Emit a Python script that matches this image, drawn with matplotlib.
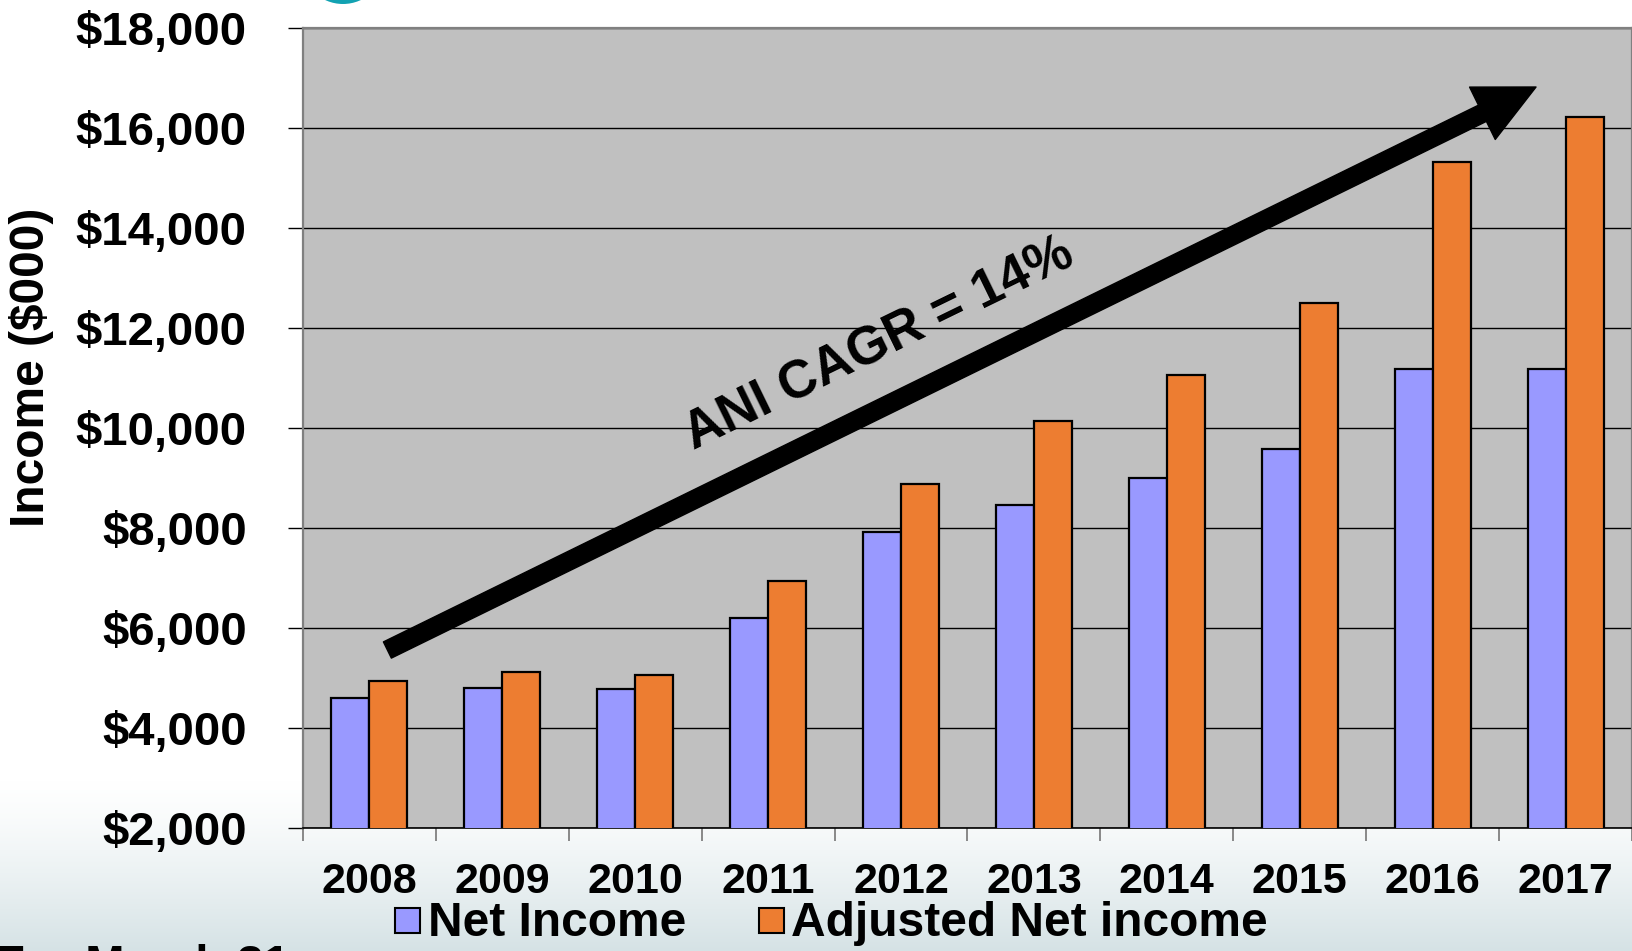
import numpy as np
import matplotlib
matplotlib.use("Agg")
import matplotlib.pyplot as plt
from matplotlib.patches import FancyArrowPatch, Circle
from matplotlib.lines import Line2D

# ---- data ----
years = ["2008", "2009", "2010", "2011", "2012", "2013", "2014", "2015", "2016", "2017"]
net_income = [4600, 4790, 4770, 6200, 7920, 8450, 9000, 9580, 11170, 11180]
adjusted_net_income = [4940, 5110, 5050, 6930, 8880, 10140, 11050, 12500, 15320, 16220]
ytick_values = [2000, 4000, 6000, 8000, 10000, 12000, 14000, 16000, 18000]
ytick_labels = ["$2,000", "$4,000", "$6,000", "$8,000", "$10,000", "$12,000",
                "$14,000", "$16,000", "$18,000"]
series_names = ["Net Income", "Adjusted Net income"]

plt.rcParams['font.family'] = ['Liberation Sans', 'DejaVu Sans']
plt.rcParams['font.weight'] = 'bold'

W, H = 1633, 951
fig = plt.figure(figsize=(W / 100, H / 100), dpi=100)
fig.patch.set_facecolor('white')

# background gradient at bottom of slide
bg = fig.add_axes([0, 0, 1, 1], zorder=-10)
bg.set_axis_off()
rows = np.arange(H)
t = np.clip((rows - 780) / (H - 780), 0, 1) ** 1.3
top_c = np.array([1.0, 1.0, 1.0])
bot_c = np.array([0.835, 0.886, 0.898])
grad = top_c[None, :] * (1 - t[:, None]) + bot_c[None, :] * t[:, None]
img = np.repeat(grad[:, None, :], 4, axis=1)
bg.imshow(img, aspect='auto', extent=[0, 1, 0, 1], origin='upper')
bg.set_xlim(0, 1)
bg.set_ylim(0, 1)

# teal decorative shape at top
fig.patches.append(Circle((343, H + 38), 42, transform=None,
                          facecolor='#12a2b2', edgecolor='none', zorder=-5))

# main axes
left, right, top, bottom = 303, 1632, 27.5, 827.5
ax = fig.add_axes([left / W, (H - bottom) / H, (right - left) / W, (bottom - top) / H])
ax.set_facecolor('#c0c0c0')

x = np.arange(len(years))
bw = 0.286
ax.bar(x - bw / 2, net_income, width=bw, color='#9999ff', edgecolor='black',
       linewidth=1.6, zorder=3, label=series_names[0])
ax.bar(x + bw / 2, adjusted_net_income, width=bw, color='#ed7d31', edgecolor='black',
       linewidth=1.6, zorder=3, label=series_names[1])

ax.set_xlim(-0.5, len(years) - 0.5)
ax.set_ylim(ytick_values[0], ytick_values[-1])
ax.set_yticks(ytick_values)
ax.set_yticklabels(ytick_labels, fontsize=34, fontweight='bold')
ax.yaxis.grid(True, color='black', linewidth=1.0, zorder=1)
ax.set_axisbelow(True)
ax.tick_params(axis='y', length=11, width=1.0, color='black', pad=29.5)

ax.set_xticks(x)
ax.set_xticklabels(years, fontsize=31, fontweight='bold')
ax.set_xticks(np.arange(len(years) + 1) - 0.5, minor=True)
ax.tick_params(axis='x', which='major', length=0, pad=24.5)
ax.tick_params(axis='x', which='minor', length=9, width=1.3, color='#808080')

for s in ['left', 'top', 'right']:
    ax.spines[s].set_color('#808080')
    ax.spines[s].set_linewidth(1.6)
ax.spines['bottom'].set_color('black')
ax.spines['bottom'].set_linewidth(1.2)

# y-axis label
fig.text(32 / W, 1 - 367 / H, "Income ($000)", rotation=90, ha='center', va='center',
         fontsize=34.5, fontweight='bold')

# trend arrow and label
arrow = FancyArrowPatch((0.135, 5550), (8.778, 16810),
                        arrowstyle='simple,head_length=43,head_width=42,tail_width=13',
                        mutation_scale=1, shrinkA=0, shrinkB=0,
                        facecolor='black', edgecolor='black', zorder=5)
ax.add_patch(arrow)
ax.text(3.838, 11650, "ANI CAGR = 14%", rotation=26, rotation_mode='anchor',
        ha='center', va='center', fontsize=38, fontweight='bold', zorder=6)

# legend
handles = [Line2D([], [], marker='s', linestyle='none', markersize=18,
                  markerfacecolor='#9999ff', markeredgecolor='black', markeredgewidth=1.5),
           Line2D([], [], marker='s', linestyle='none', markersize=18,
                  markerfacecolor='#ed7d31', markeredgecolor='black', markeredgewidth=1.5)]
fig.legend(handles, series_names, loc='center', ncol=2, frameon=False,
           bbox_to_anchor=(831 / W, 1 - 924 / H), prop={'size': 34.5, 'weight': 'bold'},
           handlelength=0.55, handletextpad=0.15, columnspacing=1.5, borderpad=0)

# partially visible slide text at bottom
fig.text(-4 / W, 1 - 944 / H, "For March 31", ha='left', va='top',
         fontsize=34, fontweight='bold')

fig.savefig("out.png", dpi=100)
